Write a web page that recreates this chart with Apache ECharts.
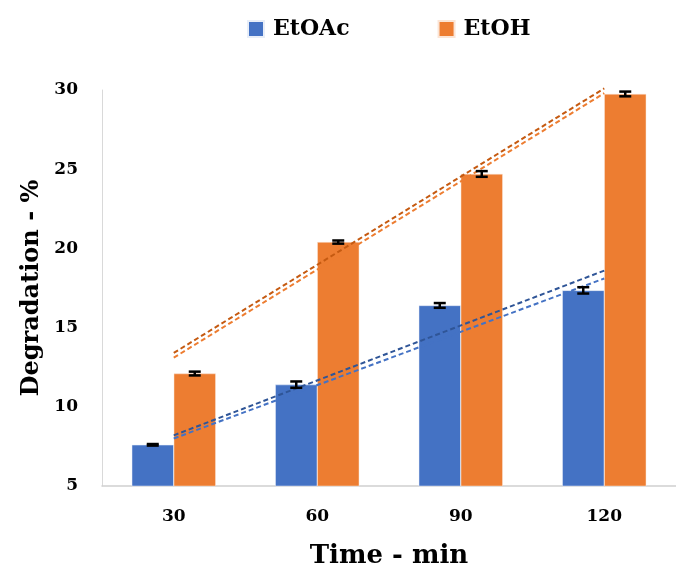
<!DOCTYPE html>
<html>
<head>
<meta charset="utf-8">
<script src="https://cdn.jsdelivr.net/npm/echarts@6/dist/echarts.min.js"></script>
<style>html,body{margin:0;padding:0;background:#fff;overflow:hidden}#c{width:676px;height:574px}</style>
</head>
<body>
<div id="c"></div>
<script>
const categories = ['30', '60', '90', '120'];
const etoac = [7.6, 11.4, 16.4, 17.35];
const etoh = [12.1, 20.4, 24.7, 29.75];
const etoacErr = [0.05, 0.2, 0.15, 0.2];
const etohErr = [0.12, 0.1, 0.18, 0.15];
// trendline endpoints (at 30 and 120 min)
const etoacTrendA = [8.2, 18.6];
const etoacTrendB = [8.0, 18.1];
const etohTrendA = [13.4, 30.1];
const etohTrendB = [13.1, 29.8];
const yTicks = [5, 10, 15, 20, 25, 30];

const FONT = 'DejaVu Serif';
const BAR_W = 42;

function errSeries(values, errs, side) {
  return {
    type: 'custom',
    z: 10,
    silent: true,
    data: values.map((v, i) => [i, v, errs[i]]),
    renderItem: function (params, api) {
      const i = api.value(0), v = api.value(1), e = api.value(2);
      const top = api.coord([i, v + e]);
      const bot = api.coord([i, v - e]);
      const x = top[0] + side * BAR_W / 2;
      const cap = 6;
      const st = { stroke: '#000', lineWidth: 2.5 };
      return {
        type: 'group',
        children: [
          { type: 'line', shape: { x1: x, y1: top[1], x2: x, y2: bot[1] }, style: st },
          { type: 'line', shape: { x1: x - cap, y1: top[1], x2: x + cap, y2: top[1] }, style: st },
          { type: 'line', shape: { x1: x - cap, y1: bot[1], x2: x + cap, y2: bot[1] }, style: st }
        ]
      };
    }
  };
}

function trend(ends, color) {
  return {
    type: 'line',
    data: [[0, ends[0]], [categories.length - 1, ends[1]]],
    symbol: 'none',
    clip: false,
    silent: true,
    z: 5,
    lineStyle: { color: color, width: 2, type: [5, 3] }
  };
}

const chart = echarts.init(document.getElementById('c'));
chart.setOption({
  animation: false,
  textStyle: { fontFamily: FONT },
  legend: {
    data: ['EtOAc', 'EtOH'],
    left: 242,
    top: 13,
    icon: 'rect',
    itemWidth: 16,
    itemHeight: 16,
    itemGap: 88,
    textStyle: { fontFamily: FONT, fontWeight: 'bold', fontSize: 22, color: '#000', padding: [0, 0, 0, 4] }
  },
  grid: { left: 102, top: 90, width: 584, height: 399, containLabel: false },
  xAxis: {
    type: 'category',
    data: categories,
    axisLine: { lineStyle: { color: '#d0d0d0', width: 1.5 } },
    axisTick: { show: false },
    axisLabel: { fontFamily: FONT, fontWeight: 'bold', fontSize: 17, color: '#000', margin: 22 },
    name: 'Time - min',
    nameLocation: 'middle',
    nameGap: 57,
    nameTextStyle: { fontFamily: FONT, fontWeight: 'bold', fontSize: 26, color: '#000' }
  },
  yAxis: {
    type: 'value',
    min: yTicks[0],
    max: yTicks[yTicks.length - 1],
    interval: 5,
    axisLine: { show: true, lineStyle: { color: '#d9d9d9', width: 1 } },
    axisTick: { show: false },
    splitLine: { show: false },
    axisLabel: { fontFamily: FONT, fontWeight: 'bold', fontSize: 17, color: '#000', margin: 24 },
    name: 'Degradation - %',
    nameLocation: 'middle',
    nameGap: 58,
    nameRotate: 90,
    nameTextStyle: { fontFamily: FONT, fontWeight: 'bold', fontSize: 24, color: '#000' }
  },
  series: [
    { name: 'EtOAc', type: 'bar', data: etoac, barWidth: BAR_W, barGap: '0%',
      itemStyle: { color: '#4472C4', borderColor: '#e8eef8', borderWidth: 0.5 } },
    { name: 'EtOH', type: 'bar', data: etoh, barWidth: BAR_W, barGap: '0%',
      itemStyle: { color: '#ED7D31', borderColor: '#fbe5d6', borderWidth: 0.5 } },
    errSeries(etoac, etoacErr, -1),
    errSeries(etoh, etohErr, 1),
    trend(etoacTrendA, '#2F5597'),
    trend(etoacTrendB, '#4472C4'),
    trend(etohTrendA, '#C55A11'),
    trend(etohTrendB, '#ED7D31')
  ]
});
</script>
</body>
</html>
